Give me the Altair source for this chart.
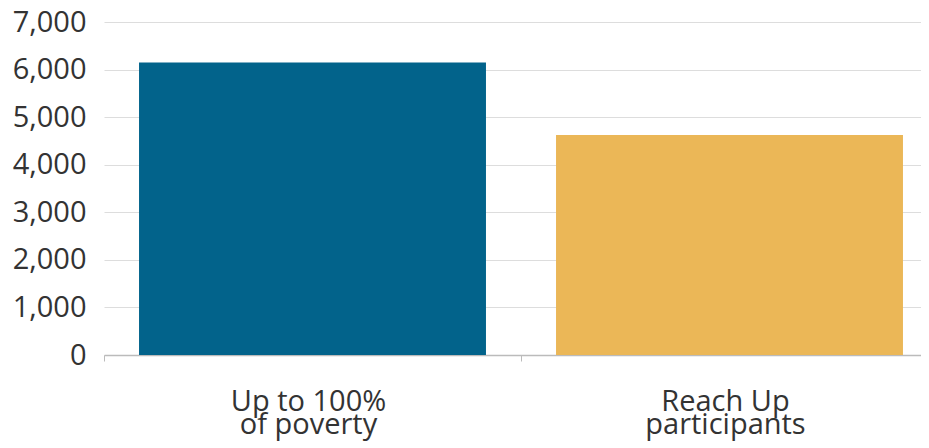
import altair as alt
import pandas as pd

categories = ["Up to 100%|of poverty", "Reach Up|participants"]
values = [6150, 4625]
colors = ["#02638B", "#EBB757"]

df = pd.DataFrame({"cat": categories, "val": values, "color": colors})

chart = alt.Chart(df).mark_bar().encode(
    x=alt.X("cat:N", sort=categories, title=None,
            scale=alt.Scale(paddingInner=0.168, paddingOuter=0.084, range=[0, 834]),
            axis=alt.Axis(labelAngle=0, labelExpr="split(datum.label, '|')",
                          labelFontSize=29, labelLineHeight=23.5, labelPadding=26,
                          labelColor="#333333", labelFont="Open Sans",
                          tickBand="center", tickOffset=-208.5, labelOffset=204,
                          tickSize=6, tickColor="#bbbbbb",
                          domainColor="#bbbbbb", domainWidth=1.5, grid=False)),
    y=alt.Y("val:Q", title=None,
            scale=alt.Scale(domain=[0, 7000]),
            axis=alt.Axis(values=[0, 1000, 2000, 3000, 4000, 5000, 6000, 7000],
                          format=",d", labelFontSize=29, labelFont="Open Sans",
                          labelColor="#333333", labelPadding=18, ticks=False,
                          domain=False, gridColor="#dddddd", gridWidth=1.2)),
    color=alt.Color("color:N", scale=None),
).properties(
    width=817, height=333,
    autosize=alt.AutoSizeParams(type="none"),
    padding={"left": 96, "top": 14, "right": 0, "bottom": 110},
).configure_view(stroke=None)

chart.save("out.html", embed_options={"renderer": "svg", "actions": False})
